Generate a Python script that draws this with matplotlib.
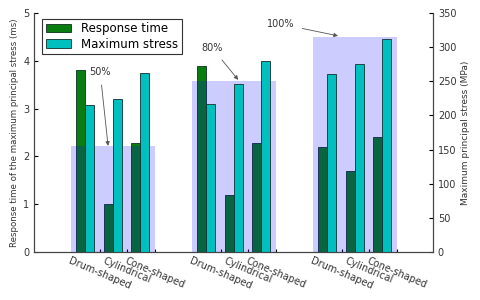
import numpy as np
import matplotlib.pyplot as plt
from matplotlib.patches import Rectangle

shapes = ['Drum-shaped', 'Cylindrical', 'Cone-shaped']
pos = [0, 1, 2, 4.4, 5.4, 6.4, 8.8, 9.8, 10.8]
resp_time = [3.8, 1.0, 2.28, 3.9, 1.2, 2.28, 2.2, 1.7, 2.4]      # ms
max_stress = [215, 224, 262, 216, 246, 280, 260, 275, 312]       # MPa
group_level = [2.22, 3.58, 4.5]   # shaded box height (ms)
group_pct = ['50%', '80%', '100%']
pct_text = [(0.87, 3.77), (4.94, 4.27), (7.42, 4.77)]
pct_tip = [(1.16, 2.22), (5.89, 3.6), (9.52, 4.52)]

w = 0.33
pos = np.array(pos)

fig = plt.figure(figsize=(4.8, 3.0), dpi=100)
ax = fig.add_axes([0.071, 0.16, 0.831, 0.797])
ax2 = ax.twinx()

b1 = ax.bar(pos, resp_time, w, align='edge', color='#0a7d12', edgecolor='#103020', lw=0.6, zorder=2, label='Response time')
b2 = ax2.bar(pos + w, max_stress, w, align='edge', color='c', edgecolor='#103030', lw=0.6, zorder=2, label='Maximum stress')

# shaded boxes sit above the response bars but below the stress bars
for g in range(3):
    x0 = pos[g * 3] - 0.2
    x1 = pos[g * 3 + 2] + 0.85
    ax.add_patch(Rectangle((x0, 0), x1 - x0, group_level[g], color='b', alpha=0.2, lw=0, zorder=5))
    ax.annotate(group_pct[g], xy=pct_tip[g], xytext=pct_text[g], ha='center', va='center',
                fontsize=7, color='#333333',
                arrowprops=dict(arrowstyle='-|>', color='#555555', lw=0.6, mutation_scale=6, shrinkA=4, shrinkB=0),
                zorder=6)

ax.set_xlim(-1.53, 12.97)
ax.set_ylim(0, 5)
ax2.set_ylim(0, 350)
ax.set_xticks(pos + 0.85)
ax.set_xticklabels(shapes * 3, rotation=-23, fontsize=7, color='#333333')
ax.set_yticks([0, 1, 2, 3, 4, 5])
ax2.set_yticks([0, 50, 100, 150, 200, 250, 300, 350])
ax.tick_params(axis='y', direction='in', length=3, labelsize=7, labelcolor='#333333')
ax2.tick_params(axis='y', direction='in', length=3, labelsize=7, labelcolor='#333333')
ax.tick_params(axis='x', direction='in', length=2, pad=3)

for a in (ax, ax2):
    a.spines['top'].set_visible(False)
    for s in ('left', 'right', 'bottom'):
        a.spines[s].set_color('#444444')
        a.spines[s].set_linewidth(0.8)

ax.set_ylabel('Response time of the maximum principal stress (ms)', fontsize=6.2, color='#333333', labelpad=3)
ax2.set_ylabel('Maximum principal stress (MPa)', fontsize=6.5, color='#333333', labelpad=3)

leg = ax2.legend([b1, b2], ['Response time', 'Maximum stress'], loc='upper left',
                 bbox_to_anchor=(0.005, 1.0), fontsize=8.5, fancybox=False, framealpha=1,
                 edgecolor='#333333', handlelength=2.2, borderpad=0.3, labelspacing=0.2)
leg.get_frame().set_linewidth(0.8)

fig.savefig('out.png', dpi=100)
